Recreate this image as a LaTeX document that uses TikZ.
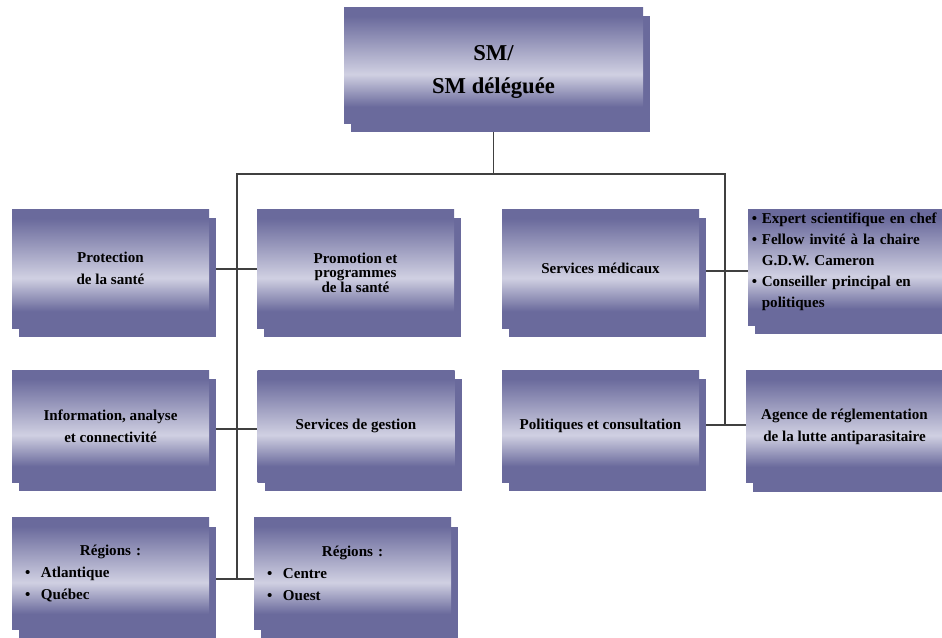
\documentclass[tikz,border=0pt]{standalone}
\usepackage{fontspec}
\setmainfont{Liberation Serif}
\usepackage{tikz}
\usetikzlibrary{calc, positioning, shadows, backgrounds}
\definecolor{dk}{RGB}{106,106,156}
\definecolor{lt}{RGB}{208,208,226}
\pgfdeclareverticalshading{boxfade}{100bp}{color(0bp)=(dk); color(32bp)=(dk); color(46bp)=(lt); color(71bp)=(dk); color(100bp)=(dk)}
\tikzstyle{unit}=[shade, shading=boxfade, minimum width=147.75pt, minimum height=84pt, inner sep=2pt, align=center, font=\fontsize{11.3}{16.5}\selectfont\bfseries, drop shadow={shadow xshift=5.25pt, shadow yshift=-6.75pt, fill=dk, opacity=1}]
\tikzstyle{link}=[line width=1pt, draw=black!75]
\newcommand{\bul}{\makebox[7.5pt][l]{\textbullet}}
\newcommand{\bulR}{\makebox[12pt][l]{\textbullet}}

\begin{document}
\begin{tikzpicture}[x=0.75pt, y=-0.75pt]
\useasboundingbox (0,0) rectangle (942,637);
\node[unit, minimum width=224.25pt, minimum height=87pt, font=\fontsize{17}{25}\selectfont\bfseries] (SM) at (493.5,65) {\rule{0pt}{22pt}SM/\\SM déléguée};

\node[unit, minimum height=89.25pt] (L1) at (110.5,268.5) {Protection\\de la santé};
\node[unit, minimum height=89.25pt, font=\fontsize{11.3}{11}\selectfont\bfseries] (M1) at (355.5,268.5) {\rule{0pt}{14pt}Promotion et\\programmes\\de la santé};
\node[unit, minimum height=89.25pt] (R1) at (600.5,268.5) {Services médicaux};
\node[unit, minimum height=87pt, align=left, text width=142pt, inner xsep=2.5pt, font=\fontsize{11.3}{15.75}\selectfont\bfseries] (X1) at (846.5,267) {\bul Expert scientifique en chef\\\bul Fellow invité à la chaire\\\hspace*{7.5pt}G.D.W. Cameron\\\bul Conseiller principal en\\\hspace*{7.5pt}politiques\rule[-10.5pt]{0pt}{0pt}};

\node[unit] (L2) at (110.5,426) {Information, analyse\\et connectivité};
\node[unit] (M2) at (356,426) {Services de gestion};
\node[unit] (R2) at (600.5,426) {Politiques et consultation};
\node[unit] (X2) at (844.5,426.5) {Agence de réglementation\\de la lutte antiparasitaire};

\node[unit, align=left, text width=128.25pt, inner xsep=9.75pt] (L3) at (110.5,573.5) {\makebox[128.25pt]{Régions :}\\\bulR Atlantique\\\bulR Québec};
\node[unit, align=left, text width=128.25pt, inner xsep=9.75pt] (M3) at (352.5,573.5) {\makebox[128.25pt]{Régions :}\\\bulR Centre\\\bulR Ouest};

\coordinate (T1) at (237,174);
\coordinate (T2) at (725,174);
\coordinate (J1) at (237,269);
\coordinate (J2) at (237,429);
\coordinate (J3) at (237,579);
\coordinate (K1) at (725,271);
\coordinate (K2) at (725,425);

\begin{scope}[on background layer]
\draw[link] (SM.south) -- (SM.south |- T1);
\draw[link] (J3) -- (T1) -- (T2) -- (K2);

\draw[link] (L1.east |- J1) -- (M1.west |- J1);
\draw[link] (L2.east |- J2) -- (M2.west |- J2);
\draw[link] (L3.east |- J3) -- (M3.west |- J3);
\draw[link] (R1.east |- K1) -- (X1.west |- K1);
\draw[link] (R2.east |- K2) -- (X2.west |- K2);
\end{scope}
\end{tikzpicture}
\end{document}
